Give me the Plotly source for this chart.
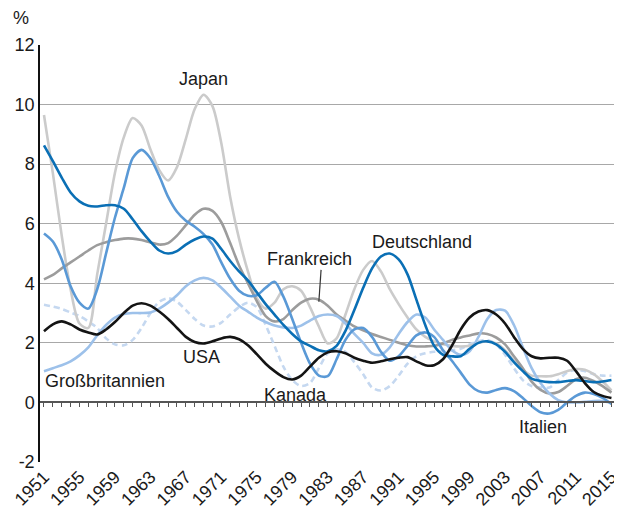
import plotly.graph_objects as go

FONT = "Liberation Sans, Arial, sans-serif"
TEXT = "#1a1a1a"

YEARS = list(range(1951, 2016))
TICK_YEARS = list(range(1951, 2016, 4))
Y_TICKS = [-2, 0, 2, 4, 6, 8, 10, 12]
Y_TEXT = ["-2", "0", "2", "4", "6", "8", "10", "12"]

JAPAN = [
    9.65, 7.7, 5.6, 3.8, 2.65, 2.5, 4.3, 6.0, 7.7, 8.9,
    9.55, 9.3, 8.5, 7.8, 7.45, 7.9, 8.85, 9.85, 10.33, 9.95,
    8.7, 6.9, 5.5, 4.4, 3.5, 3.15, 3.35, 3.8, 3.9, 3.75,
    3.2, 2.55, 1.98, 2.15, 2.95, 3.8, 4.45, 4.75, 4.4, 3.8,
    3.3, 2.85, 2.45, 2.2, 2.05, 1.95, 1.9, 1.88, 1.9, 2.0,
    2.05, 1.98, 1.75, 1.4, 1.1, 0.9, 0.88, 0.88, 0.95, 1.05,
    1.12, 1.1, 0.95, 0.7, 0.4,
]
DEUTSCHLAND = [
    8.63, 8.1, 7.55, 7.05, 6.75, 6.6, 6.58, 6.62, 6.62, 6.5,
    6.15, 5.75, 5.4, 5.1, 5.0, 5.08, 5.3, 5.47, 5.57, 5.5,
    5.15, 4.75, 4.4, 4.1, 3.7, 3.3, 2.95, 2.6, 2.3, 2.05,
    1.9, 1.75, 1.72, 1.9, 2.4, 3.1, 3.85, 4.5, 4.9, 5.0,
    4.8, 4.3, 3.45, 2.6, 1.9, 1.6, 1.55, 1.55, 1.8, 2.0,
    2.05, 1.95, 1.7, 1.35, 1.05, 0.8, 0.72, 0.68, 0.68, 0.72,
    0.75, 0.72, 0.68, 0.7, 0.75,
]
FRANKREICH = [
    4.13, 4.28, 4.5, 4.7, 4.9, 5.1, 5.28, 5.38, 5.45, 5.5,
    5.5, 5.45, 5.37, 5.3, 5.35, 5.6, 5.95, 6.3, 6.5, 6.43,
    6.05, 5.35, 4.6, 4.0, 3.4, 2.9, 2.72, 2.8, 3.1, 3.35,
    3.48, 3.45, 3.25, 2.95, 2.75, 2.55, 2.42, 2.3, 2.2, 2.1,
    2.0, 1.92, 1.88, 1.88, 1.9, 1.98, 2.1, 2.18, 2.25, 2.32,
    2.3, 2.18, 1.95, 1.55, 1.15, 0.7, 0.42, 0.3, 0.35, 0.55,
    0.78, 0.83, 0.72, 0.55, 0.33,
]
ITALIEN = [
    5.67, 5.4, 4.8, 3.9, 3.35, 3.15, 3.8, 5.0, 6.2, 7.2,
    8.2, 8.48, 8.2, 7.6, 6.9, 6.4, 6.1, 5.9, 5.65, 5.3,
    4.7, 4.15, 3.75, 3.58, 3.6, 3.85, 4.05, 3.55, 2.8, 2.0,
    1.3, 0.9, 0.88, 1.45, 2.1, 2.45, 2.5, 2.2, 1.7, 1.4,
    1.55, 1.9, 2.25, 2.35, 2.2, 1.75, 1.4, 1.0, 0.6, 0.38,
    0.33, 0.42, 0.48, 0.38, 0.15, -0.12, -0.33, -0.37, -0.25, 0.0,
    0.22, 0.33, 0.28, 0.15, -0.05,
]
GROSSBRITANNIEN = [
    1.05, 1.15, 1.25, 1.38, 1.58, 1.85, 2.25, 2.6, 2.85, 2.97,
    3.0, 3.0, 3.02, 3.15, 3.35, 3.6, 3.9, 4.1, 4.18, 4.1,
    3.85, 3.55, 3.25, 3.05, 2.85, 2.7, 2.58, 2.52, 2.5, 2.58,
    2.75, 2.9, 2.95, 2.9, 2.65, 2.3, 2.0, 1.65, 1.6, 1.85,
    2.3, 2.7, 2.95, 2.85, 2.45, 2.1, 1.75, 1.6, 1.72, 2.2,
    2.8, 3.1, 3.08, 2.6, 1.85, 1.15, 0.65, 0.3, 0.08, 0.0,
    0.0, 0.02, 0.05, 0.05, -0.02,
]
KANADA = [
    3.28, 3.22, 3.14, 3.02, 2.9, 2.72, 2.5, 2.15, 1.95, 1.92,
    2.1, 2.5, 3.0, 3.38, 3.5, 3.38, 3.1, 2.8, 2.58, 2.55,
    2.68, 2.95, 3.2, 3.35, 3.2, 2.6, 1.9, 1.2, 0.75, 0.55,
    0.65, 1.15, 1.65, 1.78, 1.7, 1.35, 0.95, 0.5, 0.4, 0.55,
    0.9, 1.3, 1.55, 1.65, 1.7, 1.72, 1.75, 1.8, 1.95, 2.05,
    2.1, 1.95, 1.6, 1.15, 0.75, 0.55, 0.5, 0.5, 0.75, 1.0,
    1.1, 1.05, 0.95, 0.9, 0.9,
]
USA = [
    2.39, 2.62, 2.72, 2.62, 2.45, 2.35, 2.28, 2.45, 2.7, 3.0,
    3.25, 3.33, 3.25, 3.05, 2.8, 2.5, 2.2, 2.03, 1.98, 2.05,
    2.15, 2.2, 2.12, 1.92, 1.62, 1.3, 1.05, 0.85, 0.77, 0.9,
    1.2, 1.5, 1.68, 1.72, 1.65, 1.5, 1.4, 1.33, 1.38, 1.45,
    1.5, 1.52, 1.38, 1.25, 1.25, 1.45, 1.9, 2.45, 2.85, 3.05,
    3.1, 2.95, 2.65, 2.2, 1.8, 1.55, 1.48, 1.5, 1.5, 1.4,
    1.05, 0.65, 0.35, 0.22, 0.15,
]

# drawn back to front
SERIES = [
    ("Kanada", KANADA, "#c5d8f0", "6px,4px"),
    ("Japan", JAPAN, "#cbcbcb", "solid"),
    ("Frankreich", FRANKREICH, "#9c9c9c", "solid"),
    ("Großbritannien", GROSSBRITANNIEN, "#9dc1ea", "solid"),
    ("Italien", ITALIEN, "#5a99d6", "solid"),
    ("Deutschland", DEUTSCHLAND, "#0a6fb5", "solid"),
    ("USA", USA, "#141414", "solid"),
]

# label text, x (year), y (%), anchor
LABELS = [
    ("Japan", 1969.0, 10.87, "center"),
    ("Deutschland", 1993.6, 5.40, "center"),
    ("Frankreich", 1981.0, 4.83, "center"),
    ("USA", 1968.8, 1.53, "center"),
    ("Großbritannien", 1950.85, 0.72, "left"),
    ("Kanada", 1979.35, 0.25, "center"),
    ("Italien", 2007.25, -0.82, "center"),
]

fig = go.Figure()
for name, vals, color, dash in SERIES:
    fig.add_trace(go.Scatter(
        x=YEARS, y=vals, name=name, mode="lines",
        line=dict(color=color, width=2.6, dash=dash, shape="spline", smoothing=0.8),
        hoverinfo="skip",
    ))

# carrier for the zero axis with yearly ticks
fig.add_trace(go.Scatter(
    x=[YEARS[0]], y=[0], xaxis="x2", mode="none",
    showlegend=False, hoverinfo="skip",
))

for text, x, y, anchor in LABELS:
    fig.add_annotation(
        x=x, y=y, text=text, showarrow=False, xanchor=anchor, yanchor="middle",
        font=dict(family=FONT, size=18, color=TEXT),
    )

fig.add_annotation(
    xref="paper", yref="paper", x=-0.033, y=1.065, text="%", showarrow=False,
    xanchor="center", yanchor="middle", font=dict(family=FONT, size=18, color=TEXT),
)
fig.add_shape(
    type="line", x0=1982.25, x1=1982.0, y0=4.45, y1=3.38,
    line=dict(color="#333333", width=1.2),
)

# the page body has an 8px default margin, so the figure is sized to fit the window
x_range = [1950.55, 2015.4]
fig.update_layout(
    width=614, height=503,
    margin=dict(l=32, r=1, t=37, b=49),
    paper_bgcolor="white", plot_bgcolor="white",
    showlegend=False,
    font=dict(family=FONT, size=18, color=TEXT),
    xaxis=dict(
        range=x_range, tickvals=TICK_YEARS, tickangle=-45,
        showgrid=False, zeroline=False, showline=False, ticks="",
        ticklabeloverflow="allow",
        tickfont=dict(size=18, color=TEXT),
    ),
    xaxis2=dict(
        overlaying="x", matches="x", anchor="free", position=2 / 14,
        tickvals=YEARS, ticks="outside", ticklen=4, tickwidth=1, tickcolor="#555555",
        showticklabels=False, showgrid=False, zeroline=False,
        showline=True, linecolor="#555555", linewidth=2,
    ),
    yaxis=dict(
        range=[-2, 12], tickvals=Y_TICKS, ticktext=Y_TEXT,
        showgrid=True, gridcolor="#a8a8a8", gridwidth=1,
        zeroline=False, showline=True, linecolor="#111111", linewidth=1.5,
        ticks="", tickfont=dict(size=18, color=TEXT),
    ),
)

fig.write_html("out.html")
